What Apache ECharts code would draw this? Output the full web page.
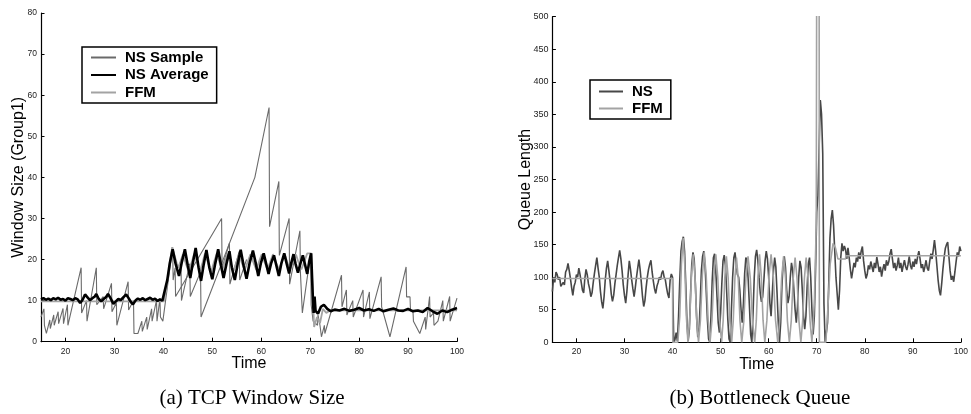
<!DOCTYPE html>
<html>
<head>
<meta charset="utf-8">
<script src="https://cdn.jsdelivr.net/npm/echarts@6/dist/echarts.min.js"></script>
<style>
html,body{margin:0;padding:0;background:#fff;}
#c{width:971px;height:414px;}
</style>
</head>
<body>
<div id="c"></div>
<script>
// ---------- data: (a) TCP Window Size ----------
const xTicks = [20, 30, 40, 50, 60, 70, 80, 90, 100];

// NS sample (two overlapping flows, same legend entry): [time, window]
const nsSampleA = [[15,6],[15.6,8],[15.7,4],[16.1,2],[16.8,5.3],[16.9,3.2],[17.6,6.5],[17.7,4],[18.5,7.3],[18.6,4.4],[19.5,8.1],[19.6,4.4],[20.4,9],[20.5,4],[23.2,18],[23.3,7],[24.3,10],[24.4,5],[26.3,18],[26.4,9],[27.7,11],[27.8,8],[29.4,14.2],[29.5,7.3],[30.4,9.5],[30.5,4],[32.8,14.6],[32.9,7.7],[33.9,10],[34.0,2],[34.8,2],[35.6,5],[35.7,2.5],[36.6,6],[36.7,3],[37.6,8],[37.7,5],[38.6,10.1],[38.7,5],[39.3,10.5],[39.4,6],[39.9,5],[41.9,23],[42.0,15],[42.4,18],[42.5,11],[51.9,30],[52.0,18],[53.5,24],[53.6,14],[55.5,22],[55.6,15],[57.0,20]];
const nsSampleB = [[43.6,20],[43.7,10],[45.4,19],[45.5,11],[47.6,17],[47.7,6],[58.7,40],[61.6,57],[61.7,28],[63.6,39],[63.7,21],[65.7,30],[65.8,14],[67.9,27],[68.0,17],[68.4,7],[70.1,21.6],[70.2,9],[70.6,5],[71.5,4],[71.6,6.5],[72.0,4],[72.3,1.2],[72.9,4],[73.0,2],[76.4,16.2],[76.5,8.5],[77.4,12.6],[77.5,6.5],[78.7,10],[78.8,6],[80.8,12.6],[80.9,6],[82.1,12.1],[82.2,5.6],[84.5,15.8],[84.6,8.5],[86.3,1.2],[89.6,18.2],[89.7,10.9],[90.4,10.9],[90.5,7.5],[91.0,7.5],[91.1,5],[92.4,2],[93.5,6],[93.6,3],[94.4,11],[94.5,6],[95.2,7],[95.3,4],[96.1,5],[97.1,10],[97.2,5],[98.5,11],[98.6,5],[100,10.6]];

const nsAverage = [[15,10.3],[15.5,10.6],[16,10.2],[16.5,10.5],[17,10.1],[17.5,10.6],[18,10.3],[18.5,10.7],[19,10.2],[19.5,10.4],[20,10.0],[20.5,10.6],[21,10.4],[21.5,10.1],[22,10.6],[22.5,10.3],[23,9.4],[23.5,10.2],[24,11.5],[24.5,10.8],[25,10.1],[25.5,10.6],[26,11.0],[26.3,11.6],[26.8,10.4],[27.3,9.8],[27.8,10.4],[28.3,10.9],[28.7,11.6],[29.2,10.6],[29.8,9.2],[30.3,9.8],[30.8,10.4],[31.3,10.1],[31.8,10.8],[32.4,11.5],[32.9,10.6],[33.4,9.6],[33.8,9.1],[34.3,10.0],[34.8,10.5],[35.3,10.2],[35.8,10.6],[36.3,10.1],[36.8,10.4],[37.3,10.7],[37.8,10.2],[38.3,10.5],[38.8,9.9],[39.3,10.3],[39.8,10.0],[40.2,10.2],
[40.8,15],[41.3,19],[41.9,22.5],[42.5,19],[43.2,16],[43.8,19.5],[44.4,22.5],[45.0,18.5],[45.5,15.5],[46.0,19],[46.6,22.8],[47.2,18],[47.7,14.8],[48.2,18.5],[48.8,22.3],[49.4,18],[50.0,15.2],[50.6,19],[51.2,22.5],[51.8,18.5],[52.3,15.5],[52.9,19],[53.5,22.0],[54.0,18],[54.6,15],[55.2,19],[55.8,22.4],[56.4,18.5],[57.0,15.3],[57.6,19],[58.3,22.2],[58.9,19],[59.4,16],[59.9,19],[60.5,21.5],[61.0,19],[61.5,16.5],[62.0,19],[62.6,21.0],[63.1,18.5],[63.6,16],[64.1,19],[64.7,21.5],[65.2,19],[65.7,16.6],[66.1,19],[66.6,21.3],[67.0,19],[67.5,16.8],[68.0,19],[68.5,21.0],[68.9,19],[69.4,16.5],[69.8,19.5],[70.2,21.5],
[70.5,12],[70.7,7],[70.9,11],[71.1,7.5],[71.6,6.8],[72.2,8.5],[72.8,9],[73.5,8],[74.2,7.4],[75,7.8],[76,7.6],[77,8.0],[78,7.5],[79,7.8],[80,8.2],[81,7.6],[82,7.9],[83,7.5],[84,8.0],[85,7.4],[86,7.8],[87,8.1],[88,7.6],[89,7.5],[90,8.0],[91,7.4],[92,7.6],[93,7.2],[94,8.2],[95,7.4],[96,6.8],[97,7.6],[98,7.2],[99,7.8],[100,8.2]];

const ffmWindow = [[15,9.8],[40.1,9.8],[40.6,13],[41.2,18],[41.8,23],[42.4,20.5],[43.0,18],[43.5,19.5],[44.0,21.3],[44.6,19],[45.2,17],[45.7,19],[46.3,21.4],[46.9,19.2],[47.5,17.2],[48.0,19.2],[48.5,21.5],[49.2,19],[49.8,17],[50.3,19.2],[50.9,21.4],[51.5,19.2],[52.0,17.2],[52.5,19.2],[53.1,21.4],[53.7,19.2],[54.3,17.2],[54.9,19.2],[55.5,21.3],[56.0,19.3],[56.6,17.4],[57.2,19.3],[57.8,21.3],[58.4,19.3],[59.0,17.5],[59.5,19.3],[60.1,21.3],[60.7,19.3],[61.3,17.5],[61.8,19.3],[62.4,21.3],[63.0,19.4],[63.6,17.6],[64.2,19.4],[64.8,21.2],[65.3,19.4],[65.9,17.6],[66.5,19.4],[67.1,21.2],[67.6,19.4],[68.2,17.6],[68.8,19.5],[69.4,21.5],[70.2,21.5],[70.8,3.6],[71.4,6],[72.0,4.5],[72.6,8],[73.3,7],[74,7.6],[100,7.6]];

// ---------- data: (b) Bottleneck Queue ----------
// NS queue: one row per second starting at t=15, four samples per row (t, t+.25, t+.5, t+.75)
const nsQueueStart = 15;
const nsQueueRows = [
[78,100,92,108],[104,96,100,86],[84,92,88,108],[112,121,110,98],[84,72,86,92],
[104,100,114,104],[92,80,76,98],[112,104,90,82],[70,76,92,106],[118,130,114,100],
[78,62,52,70],[96,114,125,110],[94,74,63,72],[90,104,118,130],[141,128,110,88],
[72,60,78,104],[125,112,96,82],[70,84,100,114],[127,112,92,70],[55,64,84,100],
[112,120,126,108],[94,82,75,86],[92,100,96,106],[110,100,96,84],[74,68,96,105],
[100,0,4,15],[2,40,95,140],[155,162,140,90],[30,2,20,75],[120,138,128,90],
[40,8,15,60],[110,132,140,120],[80,35,5,0],[40,95,130,136],[110,70,30,15],
[45,90,125,134],[118,80,35,5],[0,50,100,130],[138,120,104,100],[80,50,30,60],
[105,130,125,95],[55,12,0,45],[100,132,142,126],[100,75,62,70],[95,125,140,128],
[100,60,40,75],[110,130,115,75],[30,0,30,85],[120,132,115,80],[60,70,100,122],
[110,80,50,30],[55,100,125,115],[80,40,20,40],[85,120,130,100],[50,12,40,110],
[200,225,300,372],[350,290,60,0],[0,30,90,160],[190,203,180,140],[100,75,50,80],
[130,152,140,148],[142,128,145,130],[112,98,110,122],[115,130,124,138],[128,140,147,125],
[110,98,104,118],[112,124,116,108],[122,114,131,120],[108,116,101,112],[120,110,126,118],
[124,136,143,128],[114,122,110,118],[130,114,122,108],[118,126,116,111],[120,132,118,112],
[124,116,128,120],[132,140,128,114],[120,108,116,126],[114,110,124,136],[128,142,157,140],
[118,96,80,72],[90,112,130,144],[150,154,132,110],[96,102,93,108],[124,138,132,147]
];
const nsQueueLast = [100, 140];

const ffmQueue = [[15,98],[40,98],[40.05,0],[41.1,0],[41.5,40],[41.85,120],[42.2,160],[42.53,120],[42.87,40],[43.2,0],[43.57,34],[43.93,101],[44.3,135],[44.67,101],[45.03,34],[45.4,0],[45.8,34],[46.2,103],[46.6,138],[47.0,103],[47.4,34],[47.8,0],[48.2,34],[48.6,101],[49.0,135],[49.4,101],[49.8,34],[50.2,0],[50.53,33],[50.87,99],[51.2,132],[51.57,99],[51.93,33],[52.3,0],[52.63,33],[52.97,98],[53.3,130],[53.67,98],[54.03,33],[54.4,0],[54.83,33],[55.27,99],[55.7,132],[56.17,99],[56.63,33],[57.1,0],[57.43,34],[57.77,101],[58.1,135],[58.47,101],[58.83,34],[59.2,0],[59.63,34],[60.07,101],[60.5,135],[60.97,101],[61.43,34],[61.9,0],[62.3,33],[62.7,99],[63.1,132],[63.5,99],[63.9,33],[64.3,0],[64.7,33],[65.1,98],[65.5,130],[65.9,98],[66.3,33],[66.7,0],[67.07,33],[67.43,98],[67.8,130],[68.2,98],[68.6,33],[69.0,0],[69.5,60],[69.9,180],[70.0,600],[70.5,600],[70.55,0],[71.9,0],[72.3,50],[72.8,120],[73.4,152],[73.9,145],[74.4,128],[76.0,128],[76.05,133],[100,133]];

// ---------- build ----------
const nsQueue = [];
nsQueueRows.forEach((row, i) => row.forEach((v, j) => nsQueue.push([nsQueueStart + i + j * 0.25, v])));
nsQueue.push(nsQueueLast);

const FONT = 'Liberation Sans, Arial, Helvetica, sans-serif';
const chart = echarts.init(document.getElementById('c'), null, {renderer: 'canvas'});

function xAxisCfg(gi, gap) {
  return {
    type: 'value', gridIndex: gi, min: 15, max: 100,
    name: 'Time', nameLocation: 'middle', nameGap: gap, nameMoveOverlap: false,
    nameTextStyle: {fontSize: 16, color: '#000', fontFamily: FONT},
    axisLine: {show: true, lineStyle: {color: '#000', width: 1.2}},
    axisTick: {show: true, inside: true, length: 4, customValues: xTicks, lineStyle: {color: '#000', width: 1}},
    axisLabel: {customValues: xTicks, fontSize: 8.5, color: '#222', margin: 5, fontFamily: FONT},
    splitLine: {show: false}
  };
}
function yAxisCfg(gi, max, interval, name, gap, fs) {
  return {
    type: 'value', gridIndex: gi, min: 0, max: max, interval: interval,
    name: name, nameLocation: 'middle', nameGap: gap, nameRotate: 90, nameMoveOverlap: false,
    nameTextStyle: {fontSize: 16, color: '#000', fontFamily: FONT},
    axisLine: {show: true, lineStyle: {color: '#000', width: 1.2}},
    axisTick: {show: true, inside: true, length: 3.5, lineStyle: {color: '#000', width: 1}},
    axisLabel: {fontSize: fs, color: '#222', margin: 4, fontFamily: FONT},
    splitLine: {show: false}
  };
}
const legendText = {fontSize: 15, fontWeight: 'bold', color: '#000', fontFamily: FONT, padding: [0, 0, 0, 4]};

chart.setOption({
  animation: false,
  backgroundColor: '#fff',
  grid: [
    {left: 41, top: 13, width: 416, height: 328.7, containLabel: false},
    {left: 552.4, top: 16.7, width: 412.3, height: 325.6, containLabel: false}
  ],
  xAxis: [xAxisCfg(0, 14), xAxisCfg(1, 14)],
  yAxis: [
    yAxisCfg(0, 80, 10, 'Window Size (Group1)', 14, 8.5),
    yAxisCfg(1, 500, 50, 'Queue Length', 18.5, 9)
  ],
  legend: [
    {
      data: ['NS Sample', 'NS Average', 'FFM'], orient: 'vertical', left: 82, top: 47,
      itemWidth: 25, itemHeight: 14, itemGap: 2.5, padding: [3, 8, 3, 8],
      borderColor: '#000', borderWidth: 1.5, backgroundColor: '#fff',
      itemStyle: {opacity: 0},
      textStyle: legendText, selectedMode: false
    },
    {
      data: ['NS', 'FFM'], orient: 'vertical', left: 590, top: 80,
      itemWidth: 24, itemHeight: 14, itemGap: 2, padding: [4, 8, 3, 8],
      borderColor: '#000', borderWidth: 1.5, backgroundColor: '#fff',
      itemStyle: {opacity: 0},
      textStyle: legendText, selectedMode: false
    }
  ],
  series: [
    {name: 'NS Sample', type: 'line', xAxisIndex: 0, yAxisIndex: 0, data: nsSampleA, symbol: 'none',
     lineStyle: {color: '#6a6a6a', width: 1.1}, itemStyle: {color: '#6a6a6a'}},
    {name: 'NS Sample', type: 'line', xAxisIndex: 0, yAxisIndex: 0, data: nsSampleB, symbol: 'none',
     lineStyle: {color: '#6a6a6a', width: 1.1}, itemStyle: {color: '#6a6a6a'}},
    {name: 'FFM', type: 'line', xAxisIndex: 0, yAxisIndex: 0, data: ffmWindow, symbol: 'none',
     lineStyle: {color: '#a3a3a3', width: 1.8}, itemStyle: {color: '#a3a3a3'}},
    {name: 'NS Average', type: 'line', xAxisIndex: 0, yAxisIndex: 0, data: nsAverage, symbol: 'none',
     lineStyle: {color: '#000', width: 2.6}, itemStyle: {color: '#000'}},
    {name: 'NS', type: 'line', xAxisIndex: 1, yAxisIndex: 1, data: nsQueue, symbol: 'none',
     lineStyle: {color: '#474747', width: 1.6}, itemStyle: {color: '#474747'}},
    {name: 'FFM', type: 'line', xAxisIndex: 1, yAxisIndex: 1, data: ffmQueue, symbol: 'none',
     lineStyle: {color: '#a3a3a3', width: 1.6}, itemStyle: {color: '#a3a3a3'}}
  ],
  graphic: [
    {type: 'text', x: 252, y: 398, style: {text: '(a) TCP Window Size', textAlign: 'center', textVerticalAlign: 'middle',
      font: '21px "Liberation Serif", "Times New Roman", serif', fill: '#000'}},
    {type: 'text', x: 760, y: 398, style: {text: '(b) Bottleneck Queue', textAlign: 'center', textVerticalAlign: 'middle',
      font: '21px "Liberation Serif", "Times New Roman", serif', fill: '#000'}}
  ]
});
</script>
</body>
</html>
